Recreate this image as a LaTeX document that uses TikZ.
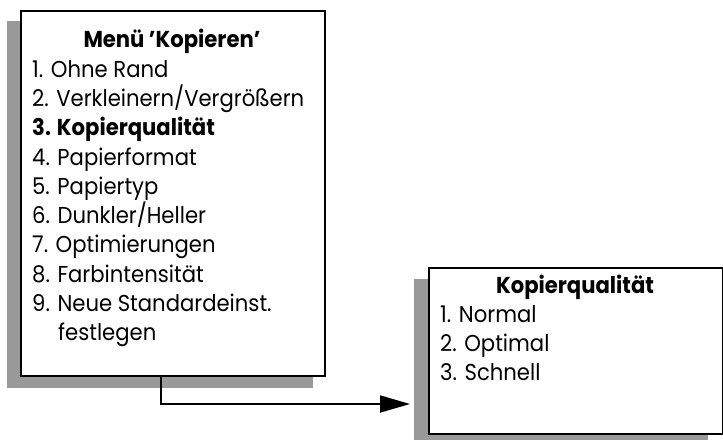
\documentclass[tikz,border=0pt]{standalone}
\usepackage{fontspec}
\setmainfont{Poppins}[FakeStretch=0.92]
\usetikzlibrary{arrows.meta}
\definecolor{shadowgray}{HTML}{999999}
\begin{document}
\begin{tikzpicture}[x=1pt,y=-1pt,
  box/.style={draw=black,line width=2pt,fill=white,anchor=north west,inner sep=0pt},
  txt/.style={anchor=base west,inner sep=0pt,font=\fontsize{23}{29}\selectfont},
  ttl/.style={anchor=base,inner sep=0pt,font=\fontsize{23}{29}\selectfont\bfseries},
  conn/.style={line width=1.8pt,-{Triangle[length=30pt,width=17pt]}}]
\useasboundingbox (0,0) rectangle (723,440);
% shadows
\fill[shadowgray] (7,21) rectangle (313,388);
\fill[shadowgray] (414,279) rectangle (708,440);
% boxes
\node[box,minimum width=304pt,minimum height=365pt] (menu) at (20,10) {};
\node[box,minimum width=294pt,minimum height=166pt] (qual) at (428,267) {};
% texts of menu
\node[ttl] (t0) at (172,47) {Menü {\char"0027}Kopieren{\char"0027}};
\node[txt] (t1) at (32,77) {1. Ohne Rand};
\node[txt] (t2) at (32,106) {2. Verkleinern/Vergrößern};
\node[txt,font=\fontsize{23}{29}\selectfont\bfseries] (t3) at (32,135) {3. Kopierqualität};
\node[txt] (t4) at (32,165) {4. Papierformat};
\node[txt] (t5) at (32,194) {5. Papiertyp};
\node[txt] (t6) at (32,223) {6. Dunkler/Heller};
\node[txt] (t7) at (32,252) {7. Optimierungen};
\node[txt] (t8) at (32,282) {8. Farbintensität};
\node[txt] (t9) at (32,311) {9. Neue Standardeinst.};
\node[txt] (t10) at (58,340) {festlegen};
% texts of quality
\node[ttl] (q0) at (575,293) {Kopierqualität};
\node[txt] (q1) at (440,322) {1. Normal};
\node[txt] (q2) at (440,351) {2. Optimal};
\node[txt] (q3) at (440,380) {3. Schnell};
% connector
\coordinate (drop) at (161,404);
\coordinate (tip) at (410,404);
\draw[conn] (drop |- menu.south) -- (drop) -- (tip);
\end{tikzpicture}
\end{document}
